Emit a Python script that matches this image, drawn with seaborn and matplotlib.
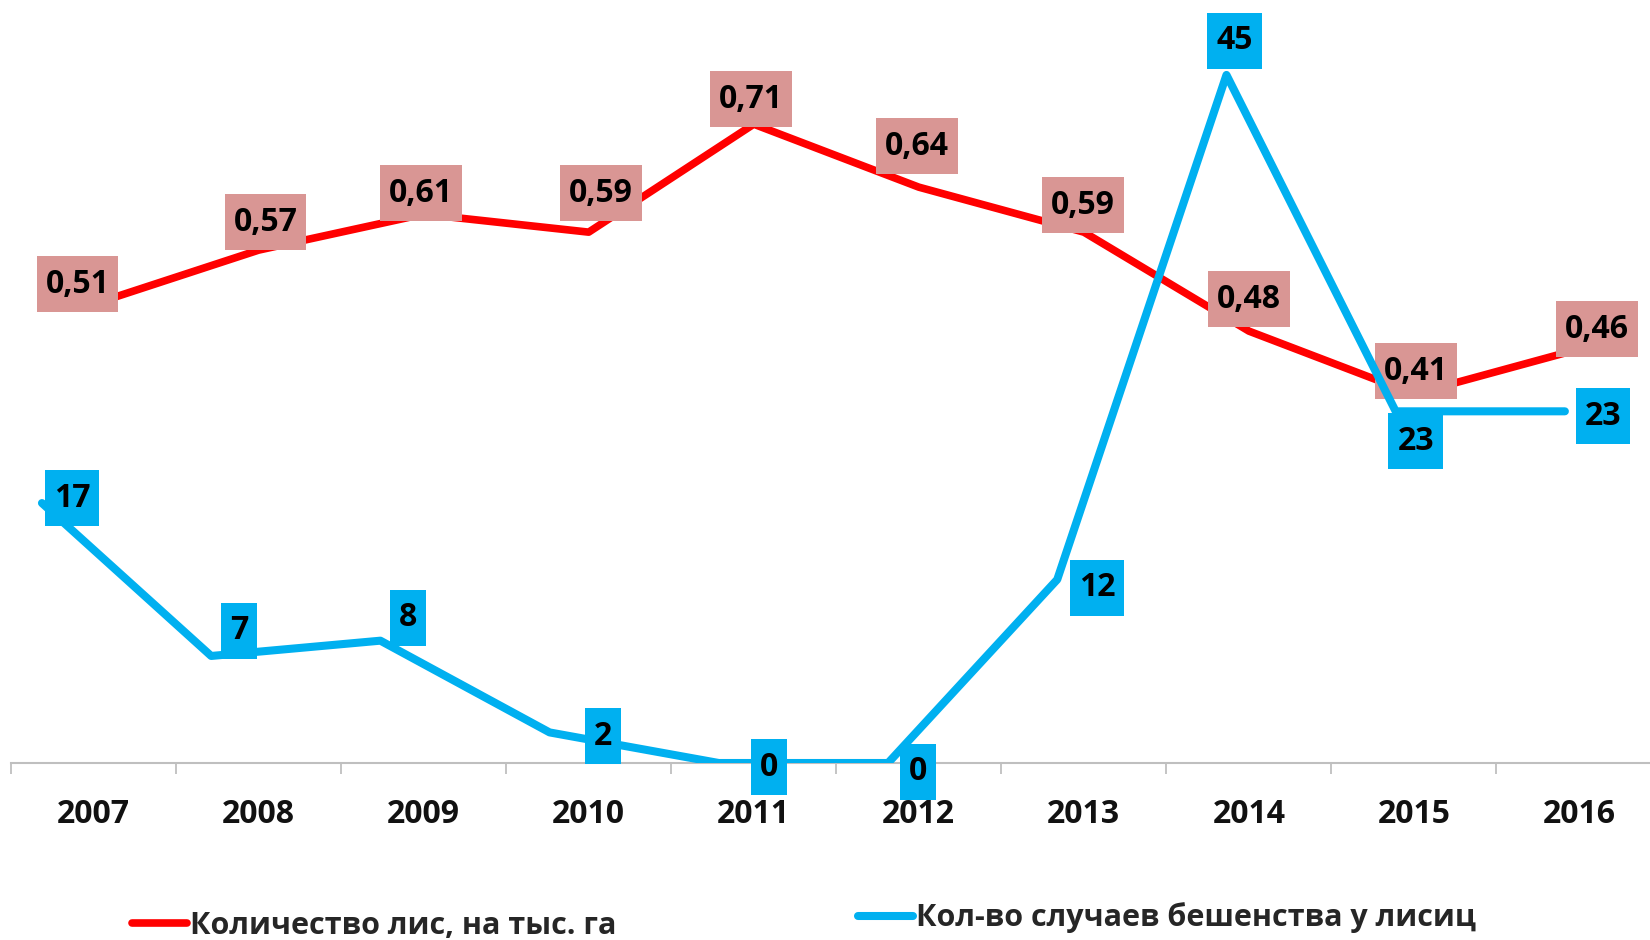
import numpy as np
import pandas as pd
import matplotlib.pyplot as plt
import seaborn as sns
from matplotlib.ticker import FixedLocator
from matplotlib.path import Path

sns.set_theme(style="white")
plt.rcParams["font.family"] = ["Open Sans", "DejaVu Sans"]
plt.rcParams["font.weight"] = "bold"

# данные
years = ["2007", "2008", "2009", "2010", "2011", "2012", "2013", "2014", "2015", "2016"]
foxes = [0.51, 0.57, 0.61, 0.59, 0.71, 0.64, 0.59, 0.48, 0.41, 0.46]
rabies = [17, 7, 8, 2, 0, 0, 12, 45, 23, 23]
foxes_name = "Количество лис, на тыс. га"
rabies_name = "Кол-во случаев бешенства у лисиц"

# сдвиги подписей (пиксели)
foxes_off = [(-16, 20), (7, 28), (-3, 21), (12, 39), (-3, 25), (-2, 41), (-1, 27), (0, 32), (2, 23), (18, 20)]
rabies_off = [(30, 5), (28, 25), (28, 23), (53, -4), (50, -4), (30, -9), (40, -8), (8, 34), (20, -30), (38, -5)]

RED = "#FF0000"
RED_BOX = "#D99694"
BLUE = "#00B0F0"
FS = 23


def tall_box(x0, y0, width, height, mutation_size):
    # прямоугольник с большим отступом по вертикали, как в Excel
    px, py = 0.28 * mutation_size, 0.36 * mutation_size
    x0, y0 = x0 - px, y0 - py
    x1, y1 = x0 + width + 2 * px, y0 + height + 2 * py
    return Path([(x0, y0), (x1, y0), (x1, y1), (x0, y1), (x0, y0)], closed=True)


df = pd.DataFrame({"year": years, "foxes": foxes, "rabies": rabies})

fig = plt.figure(figsize=(16.5, 9.4), dpi=100)
rect = [11 / 1650, 1 - 763 / 940, 1 - 11 / 1650, 763 / 940]
ax = fig.add_axes(rect)
ax2 = fig.add_axes(rect)
ax2.patch.set_alpha(0)

sns.lineplot(data=df, x="year", y="foxes", ax=ax, color=RED, linewidth=5.5,
             legend=False, solid_joinstyle="round")
sns.lineplot(data=df, x="year", y="rabies", ax=ax2, color=BLUE, linewidth=5.8,
             legend=False, solid_joinstyle="round", solid_capstyle="round")

ax.set_xlim(-0.5, 9.43)
ax.set_ylim(0, 0.848)
ax2.set_xlim(-0.183, 9.503)
ax2.set_ylim(0, 49.9)

for a in (ax, ax2):
    a.set_xlabel("")
    a.set_ylabel("")
    a.set_yticks([])
    for s in a.spines.values():
        s.set_visible(False)
ax2.set_xticks([])

ax.spines["bottom"].set_visible(True)
ax.spines["bottom"].set_color("#BFBFBF")
ax.spines["bottom"].set_linewidth(1.5)
ax.xaxis.set_minor_locator(FixedLocator(np.arange(-0.5, len(years) - 0.5, 1)))
ax.tick_params(axis="x", which="minor", bottom=True, length=8, width=1.3, color="#BFBFBF")
ax.tick_params(axis="x", which="major", bottom=True, length=0, pad=25,
               labelsize=FS, labelcolor="#111111")
for lbl in ax.get_xticklabels():
    lbl.set_fontweight("bold")

# подписи данных
for i, v in enumerate(foxes):
    ax.annotate(f"{v:.2f}".replace(".", ","), xy=(i, v), xytext=foxes_off[i],
                textcoords="offset pixels", ha="center", va="center",
                fontsize=FS, fontweight="bold", color="black", zorder=5,
                bbox=dict(boxstyle=tall_box, fc=RED_BOX, ec="none"))
for i, v in enumerate(rabies):
    ax2.annotate(str(v), xy=(i, v), xytext=rabies_off[i],
                 textcoords="offset pixels", ha="center", va="center",
                 fontsize=FS, fontweight="bold", color="black", zorder=5,
                 bbox=dict(boxstyle=tall_box, fc=BLUE, ec="none"))

# легенда (обрезана снизу, как в оригинале)
red_line = ax.get_lines()[0]
blue_line = ax2.get_lines()[0]
leg_kw = dict(frameon=False, loc="center left", borderpad=0, borderaxespad=0,
              handlelength=1.8, handletextpad=0.1,
              prop={"size": 22, "weight": "bold"})
fig.legend([red_line], [foxes_name], bbox_to_anchor=(132 / 1650, 1 - 926 / 940), **leg_kw)
fig.legend([blue_line], [rabies_name], bbox_to_anchor=(858 / 1650, 1 - 918 / 940), **leg_kw)

plt.savefig("out.png", dpi=100)
plt.close()
